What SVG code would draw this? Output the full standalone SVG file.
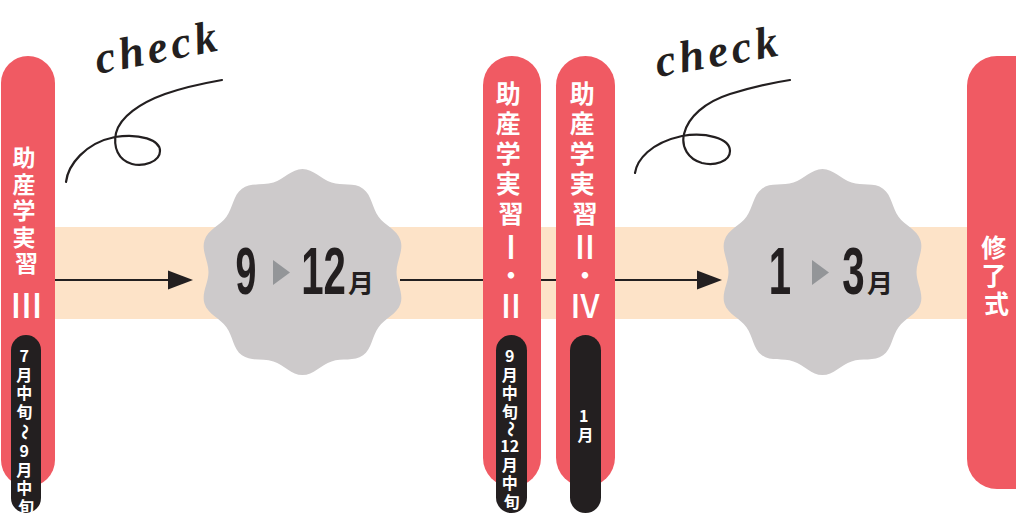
<svg xmlns="http://www.w3.org/2000/svg" width="1016" height="513" viewBox="0 0 1016 513">
  <style>
    .pill{fill:#f05a63}
    .tag{fill:#231f20}
    .lbl{font-family:"Noto Sans CJK JP","Noto Sans",sans-serif;font-weight:700;fill:#ffffff;text-anchor:middle}
    .sm{font-size:16px}
    .rn{font-size:32px;font-weight:500}
    .scal{fill:#cdcacb}
    .num{font-family:"Liberation Sans",Arial,sans-serif;font-weight:700;font-size:67px;fill:#231f20;text-anchor:middle}
    .mon{font-family:"Noto Sans CJK JP",sans-serif;font-weight:700;font-size:26px;fill:#231f20}
    .tri{fill:#939598}
    .conn{stroke:#231f20;stroke-width:2;fill:none}
    .hand{font-family:"Liberation Serif",serif;font-style:italic;font-weight:700;font-size:45px;fill:#231f20;letter-spacing:4px}
    .curl{stroke:#231f20;stroke-width:2.2;fill:none;stroke-linecap:round;stroke-linejoin:round}
  </style>
  <defs>
    <marker id="arrow" markerUnits="userSpaceOnUse" markerWidth="26" markerHeight="20" refX="20" refY="10" orient="auto">
      <path d="M0,0.5 L25,10 L0,19.5 Z" fill="#231f20"/>
    </marker>
    <!-- ten-lobed badge, centred on the origin -->
    <path id="scallop" d="M0,-103 C11,-103 18.59,-92.8 29.05,-89.4 C39.51,-86 51.64,-89.8 60.54,-83.33 C69.44,-76.86 69.58,-64.15 76.05,-55.25 C82.52,-46.35 94.56,-42.29 97.96,-31.83 C101.36,-21.37 94,-11 94,0 C94,11 101.36,21.37 97.96,31.83 C94.56,42.29 82.52,46.35 76.05,55.25 C69.58,64.15 69.44,76.86 60.54,83.33 C51.64,89.8 39.51,86 29.05,89.4 C18.59,92.8 11,103 0,103 C-11,103 -18.59,92.8 -29.05,89.4 C-39.51,86 -51.64,89.8 -60.54,83.33 C-69.44,76.86 -69.58,64.15 -76.05,55.25 C-82.52,46.35 -94.56,42.29 -97.96,31.83 C-101.36,21.37 -94,11 -94,0 C-94,-11 -101.36,-21.37 -97.96,-31.83 C-94.56,-42.29 -82.52,-46.35 -76.05,-55.25 C-69.58,-64.15 -69.44,-76.86 -60.54,-83.33 C-51.64,-89.8 -39.51,-86 -29.05,-89.4 C-18.59,-92.8 -11,-103 0,-103 Z"/>
  </defs>

  <!-- timeline band -->
  <rect x="28" y="227" width="962" height="92" fill="#fde3c8"/>

  <!-- connectors -->
  <g id="connectors">
    <line class="conn" x1="55" y1="280" x2="188" y2="280" marker-end="url(#arrow)"/>
    <line class="conn" x1="400" y1="280" x2="717" y2="280" marker-end="url(#arrow)"/>
  </g>

  <!-- check notes -->
  <g id="check1">
    <text class="hand" x="98" y="74" transform="rotate(-11 98 74)">check</text>
    <path class="curl" d="M66,182 C68,165 85,143 115,137 C140,133 160,140 160,151 C160,162 143,167 132,164 C118,160 113,147 116,133 C120,117 140,103 165,94 C185,87 205,83 222,80"/>
  </g>
  <g id="check2">
    <text class="hand" x="658" y="77" transform="rotate(-10 658 77)">check</text>
    <path class="curl" d="M635,173 C637,160 650,143 682,136 C705,132 730,138 730,151 C730,162 714,166 702,163 C688,159 681,147 684,134 C688,117 705,102 730,94 C750,88 770,83 790,80"/>
  </g>

  <!-- practicum III -->
  <g id="practicum3">
    <rect class="pill" x="1" y="56" width="54" height="431" rx="27"/>
    <text class="lbl" font-size="23">
      <tspan x="26.5" y="166">助</tspan>
      <tspan x="26.5" y="192.5">産</tspan>
      <tspan x="26.5" y="219">学</tspan>
      <tspan x="26.5" y="245.5">実</tspan>
      <tspan x="26.5" y="272">習</tspan>
    </text>
    <text class="lbl rn" style="font-size:34px" x="26.5" y="318">Ⅲ</text>
    <rect class="tag" x="11" y="335" width="30" height="178" rx="15"/>
    <text class="lbl sm">
      <tspan x="26" y="362">7</tspan>
      <tspan x="26" y="380.5">月</tspan>
      <tspan x="26" y="399">中</tspan>
      <tspan x="26" y="417.5">旬</tspan>
      <tspan x="26" y="457">9</tspan>
      <tspan x="26" y="475.5">月</tspan>
      <tspan x="26" y="494">中</tspan>
      <tspan x="26" y="512.5">旬</tspan>
    </text>
    <text class="lbl sm" x="26" y="432" dominant-baseline="central" transform="rotate(90 26 432)">～</text>
  </g>

  <!-- term 9-12 -->
  <g id="term-sep-dec">
    <use href="#scallop" x="302.5" y="272" class="scal"/>
    <text class="num" transform="translate(246,294) scale(0.56,1)">9</text>
    <path class="tri" d="M273,260 L290,272.5 L273,285 Z"/>
    <text class="num" transform="translate(323.5,294) scale(0.6,1)">12</text>
    <text class="mon" x="348" y="293">月</text>
  </g>

  <!-- practicum I・II -->
  <g id="practicum1-2">
    <rect class="pill" x="483" y="56" width="58" height="431" rx="29"/>
    <text class="lbl" font-size="25">
      <tspan x="511" y="103">助</tspan>
      <tspan x="511" y="133">産</tspan>
      <tspan x="511" y="163">学</tspan>
      <tspan x="511" y="193">実</tspan>
      <tspan x="511" y="223">習</tspan>
    </text>
    <text class="lbl rn" x="511" y="259">Ⅰ</text>
    <text class="lbl" font-size="25" x="511" y="285">・</text>
    <text class="lbl rn" x="511" y="318">Ⅱ</text>
    <rect class="tag" x="496" y="335" width="31" height="178" rx="15.5"/>
    <text class="lbl sm">
      <tspan x="511.5" y="362">9</tspan>
      <tspan x="511.5" y="380.5">月</tspan>
      <tspan x="511.5" y="399">中</tspan>
      <tspan x="511.5" y="417.5">旬</tspan>
      <tspan x="511.5" y="452">12</tspan>
      <tspan x="511.5" y="470.5">月</tspan>
      <tspan x="511.5" y="489">中</tspan>
      <tspan x="511.5" y="507.5">旬</tspan>
    </text>
    <text class="lbl sm" x="511.5" y="429" dominant-baseline="central" transform="rotate(90 511.5 429)">～</text>
  </g>

  <!-- practicum II・IV -->
  <g id="practicum2-4">
    <rect class="pill" x="556" y="56" width="59" height="431" rx="29.5"/>
    <text class="lbl" font-size="25">
      <tspan x="585" y="103">助</tspan>
      <tspan x="585" y="133">産</tspan>
      <tspan x="585" y="163">学</tspan>
      <tspan x="585" y="193">実</tspan>
      <tspan x="585" y="223">習</tspan>
    </text>
    <text class="lbl rn" x="585" y="259">Ⅱ</text>
    <text class="lbl" font-size="25" x="585" y="285">・</text>
    <text class="lbl rn" x="585" y="318">Ⅳ</text>
    <rect class="tag" x="570" y="335" width="31" height="178" rx="15.5"/>
    <text class="lbl sm">
      <tspan x="585.5" y="422">1</tspan>
      <tspan x="585.5" y="440.5">月</tspan>
    </text>
  </g>

  <!-- term 1-3 -->
  <g id="term-jan-mar">
    <use href="#scallop" x="822.5" y="272" class="scal"/>
    <text class="num" transform="translate(780,294) scale(0.6,1)">1</text>
    <path class="tri" d="M812,260 L829,272.5 L812,285 Z"/>
    <text class="num" transform="translate(853.5,294) scale(0.6,1)">3</text>
    <text class="mon" x="867" y="293">月</text>
  </g>

  <!-- completion ceremony -->
  <g id="completion">
    <rect class="pill" x="967" y="56" width="80" height="433" rx="30"/>
    <text class="lbl" font-size="25">
      <tspan x="996.5" y="257">修</tspan>
      <tspan x="996.5" y="285">了</tspan>
      <tspan x="996.5" y="313">式</tspan>
    </text>
  </g>
</svg>
